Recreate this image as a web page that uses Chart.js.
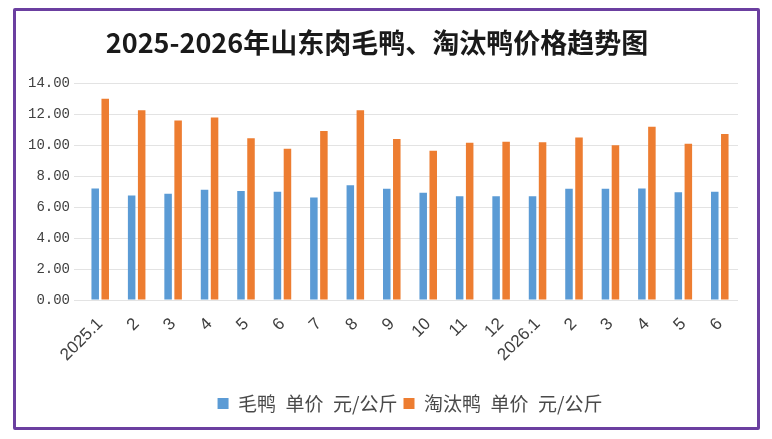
<!DOCTYPE html>
<html>
<head>
    <meta charset="UTF-8">
    <title>山东肉毛鸭、淘汰鸭价格趋势图</title>
    <script src="https://cdn.jsdelivr.net/npm/chart.js@4.4.1/dist/chart.umd.min.js"></script>
    <style>
      body { margin: 0; background: #fff; }
      .frame {
        position: absolute; left: 13px; top: 8px;
        width: 741px; height: 416px;
        border: 3px solid #6b3fa0; border-radius: 2px;
        background: #fff;
      }
    </style>
</head>
<body>
    <div class="frame">
        <canvas id="myChart"></canvas>
    </div>

  <script>
      // 月份
      const months = ['2025.1', '2', '3', '4', '5', '6', '7', '8', '9', '10', '11', '12',
                      '2026.1', '2', '3', '4', '5', '6'];
      // 毛鸭 单价 元/公斤
      const maoya = [7.21, 6.76, 6.87, 7.13, 7.04, 7.00, 6.63, 7.41, 7.19, 6.93, 6.71, 6.71,
                     6.71, 7.19, 7.19, 7.21, 6.97, 6.99];
      // 淘汰鸭 单价 元/公斤
      const taotai = [13.00, 12.27, 11.60, 11.79, 10.45, 9.77, 10.93, 12.27, 10.40, 9.64, 10.16, 10.23,
                      10.20, 10.51, 10.01, 11.20, 10.10, 10.73];
      const yTicks = [0, 2, 4, 6, 8, 10, 12, 14];

      const ctx = document.getElementById('myChart').getContext('2d');
      const myChart = new Chart(ctx, {
          type: 'bar',
          data: {
              labels: months,
              datasets: [{
                  label: '毛鸭\u2002单价\u2002元/公斤',
                  data: maoya,
                  backgroundColor: '#5b9bd5'
              }, {
                  label: '淘汰鸭\u2002单价\u2002元/公斤',
                  data: taotai,
                  backgroundColor: '#ed7d31'
              }]
          },
          options: {
              responsive: true,
              maintainAspectRatio: false,
              animation: false,
              datasets: { bar: { barPercentage: 0.75, categoryPercentage: 0.55 } },
              layout: { padding: { left: 0, right: 19, top: 4, bottom: 4 } },
              plugins: {
                  title: {
                      display: true,
                      text: '2025-2026年山东肉毛鸭、淘汰鸭价格趋势图',
                      color: '#1a1a1a',
                      font: { family: 'Noto Sans CJK SC', size: 27, weight: 'bold' },
                      padding: { top: 12, bottom: 24 }
                  },
                  legend: {
                      position: 'bottom',
                      fullSize: false,
                      labels: {
                          color: '#4a4a4a',
                          boxWidth: 11, boxHeight: 11,
                          font: { family: 'Noto Sans CJK SC', size: 19 },
                          padding: 6
                      }
                  },
                  tooltip: { enabled: false }
              },
              scales: {
                  x: {
                      grid: { display: false },
                      border: { display: false },
                      afterFit: (axis) => { axis.height = 88; },
                      ticks: {
                          color: '#404040',
                          padding: 6,
                          maxRotation: 45, minRotation: 45,
                          font: { family: 'Liberation Sans', size: 17 }
                      }
                  },
                  y: {
                      min: 0, max: 14,
                      afterBuildTicks: (axis) => { axis.ticks = yTicks.map(v => ({ value: v })); },
                      afterFit: (axis) => { axis.width = 66; },
                      grid: { color: '#e3e3e3' },
                      border: { display: false },
                      ticks: {
                          color: '#404040',
                          padding: 4,
                          font: { family: 'Liberation Mono', size: 14 },
                          callback: (v) => v.toFixed(2)
                      }
                  }
              }
          }
      });
  </script>
</body>
</html>
